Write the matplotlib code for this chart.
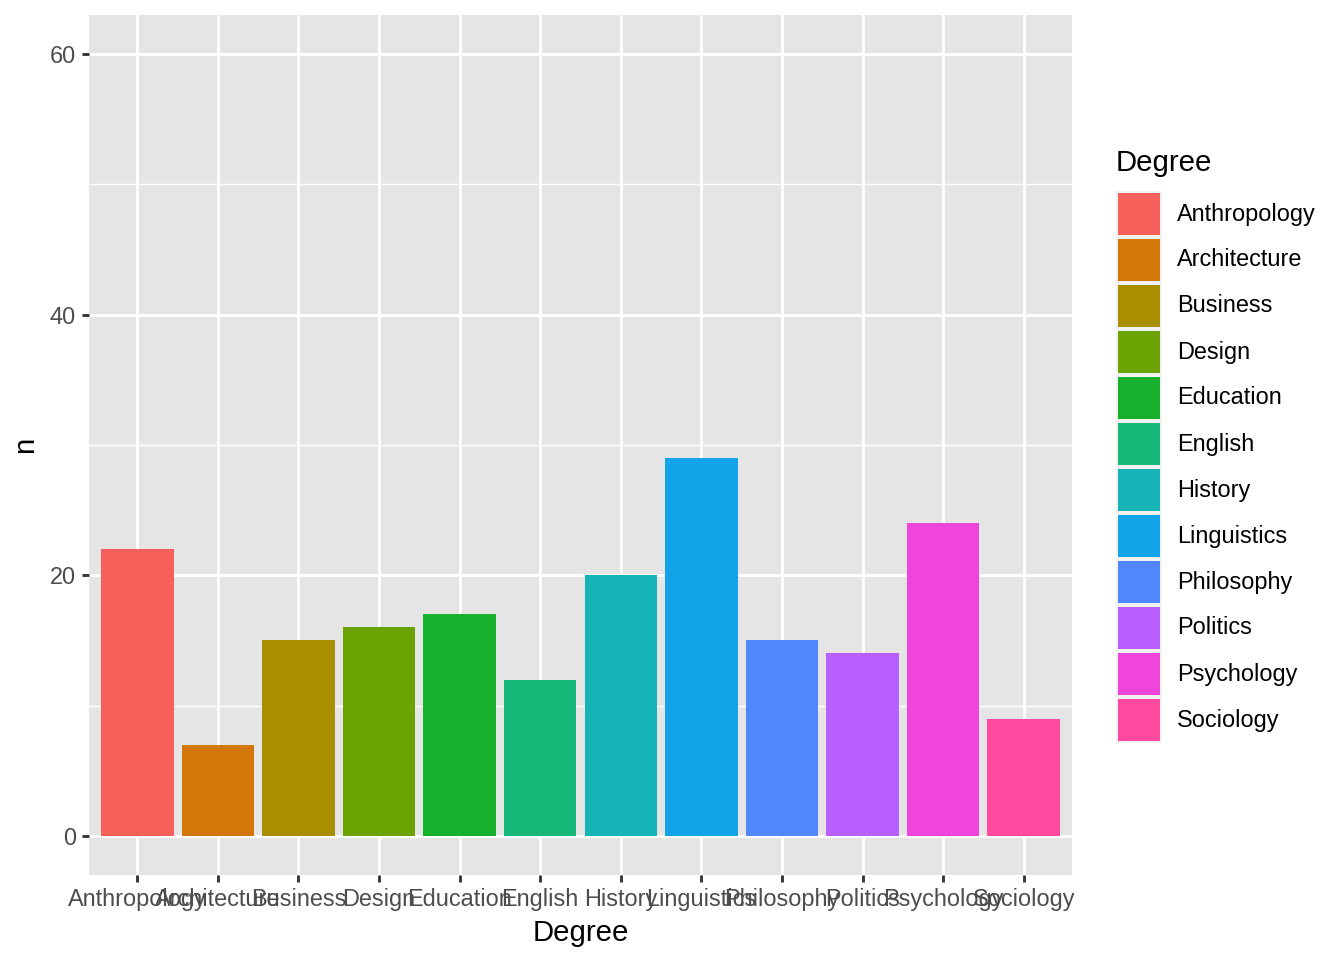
import matplotlib
matplotlib.use("Agg")
import matplotlib.pyplot as plt
from matplotlib.patches import Rectangle

degrees = ["Anthropology", "Architecture", "Business", "Design", "Education",
           "English", "History", "Linguistics", "Philosophy", "Politics",
           "Psychology", "Sociology"]
counts = [22, 7, 15, 16, 17, 12, 20, 29, 15, 14, 24, 9]
colors = ["#F5605B", "#D3770A", "#A88E00", "#6AA303", "#17B12D", "#17B77A",
          "#17B4B7", "#13A3E8", "#5087FF", "#B85FFF", "#F045DB", "#FF4AA0"]
y_ticks = [0, 20, 40, 60]
y_minor = [10, 30, 50]

plt.rcParams['font.family'] = ['Liberation Sans', 'DejaVu Sans']

W, H = 1344, 960
fig = plt.figure(figsize=(7, 5), dpi=192)
L, R, T, B = 89, 1072, 15, 875
ax = fig.add_axes([L / W, 1 - B / H, (R - L) / W, (B - T) / H])
ax.set_facecolor("#E5E5E5")
x = list(range(1, len(degrees) + 1))
ax.bar(x, counts, width=0.9, color=colors, zorder=3)
ax.set_xlim(0.4, len(degrees) + 0.6)
ax.set_ylim(-3, 63)
ax.set_yticks(y_ticks)
ax.set_yticks(y_minor, minor=True)
ax.set_xticks(x)
ax.set_xticklabels(degrees)
ax.grid(which="major", color="white", linewidth=1.07, zorder=1)
ax.grid(which="minor", axis="y", color="white", linewidth=0.53, zorder=1)
for s in ax.spines.values():
    s.set_visible(False)
ax.tick_params(which="major", length=2.75, width=1.07, color="#333333",
               labelsize=8.8, labelcolor="#4D4D4D", pad=2.2)
ax.tick_params(which="minor", length=0)
ax.set_xlabel("Degree", fontsize=11, labelpad=3)
ax.set_ylabel("n", fontsize=11, labelpad=4)

# legend in pixel coordinates
lg = fig.add_axes([0, 0, 1, 1])
lg.set_xlim(0, W)
lg.set_ylim(H, 0)
lg.axis("off")
lg.text(1116, 163, "Degree", fontsize=11, va="center", ha="left")
top0 = 191
ks = 46
for i, (d, c) in enumerate(zip(degrees, colors)):
    y0 = top0 + i * ks
    lg.add_patch(Rectangle((1116, y0), 46, ks, facecolor="#F2F2F2", edgecolor="none"))
    lg.add_patch(Rectangle((1118, y0 + 2), 42, ks - 4, facecolor=c, edgecolor="none"))
    lg.text(1177, y0 + ks / 2, d, fontsize=8.8, va="center", ha="left")

fig.savefig("out.png", dpi=192)
